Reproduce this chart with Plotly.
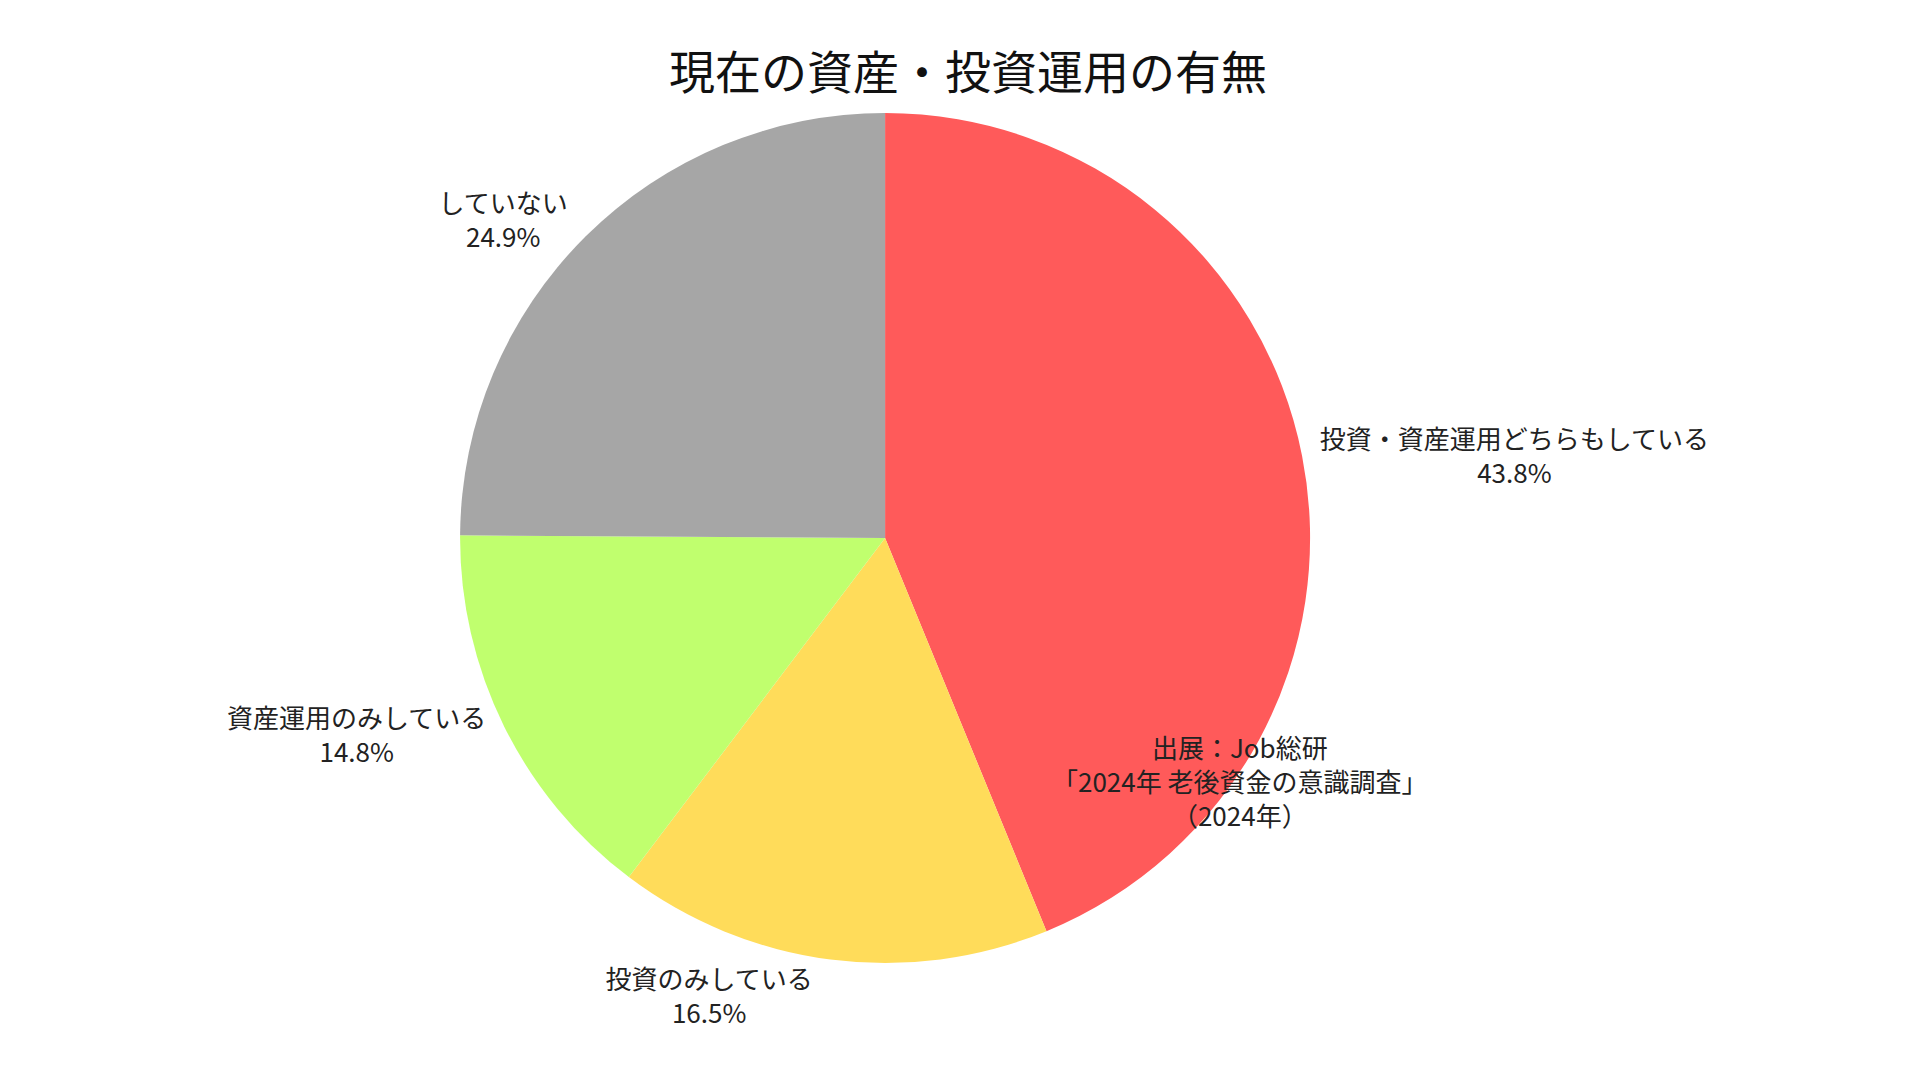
import plotly.graph_objects as go

labels = ["投資・資産運用どちらもしている", "投資のみしている", "資産運用のみしている", "していない"]
values = [43.8, 16.5, 14.8, 24.9]
colors = ["#FF5A5A", "#FFDC5A", "#C0FF6E", "#A6A6A6"]

fig = go.Figure(go.Pie(
    labels=labels, values=values, sort=False, direction="clockwise", rotation=0,
    marker=dict(colors=colors),
    texttemplate="%{label}<br>%{value:.1f}%", textposition="outside",
    textfont=dict(size=26, color="#222"), showlegend=False, hoverinfo="skip",
    domain=dict(x=[0.08, 1.0], y=[0.0, 1.0]),
))
fig.update_layout(
    width=1920, height=1080, paper_bgcolor="white",
    font=dict(family="Noto Sans CJK JP"),
    title=dict(text="現在の資産・投資運用の有無", x=0.5, y=0.955, xanchor="center",
               font=dict(size=46, color="#111")),
    margin=dict(l=0, r=0, t=105, b=125),
    annotations=[dict(text="出展：Job総研<br>「2024年 老後資金の意識調査」<br>（2024年）",
                      x=0.862, y=0.215, xref="paper", yref="paper", showarrow=False,
                      xanchor="center", yanchor="middle",
                      font=dict(size=26, color="#222"), align="center")],
)
fig.write_html("out.html")
